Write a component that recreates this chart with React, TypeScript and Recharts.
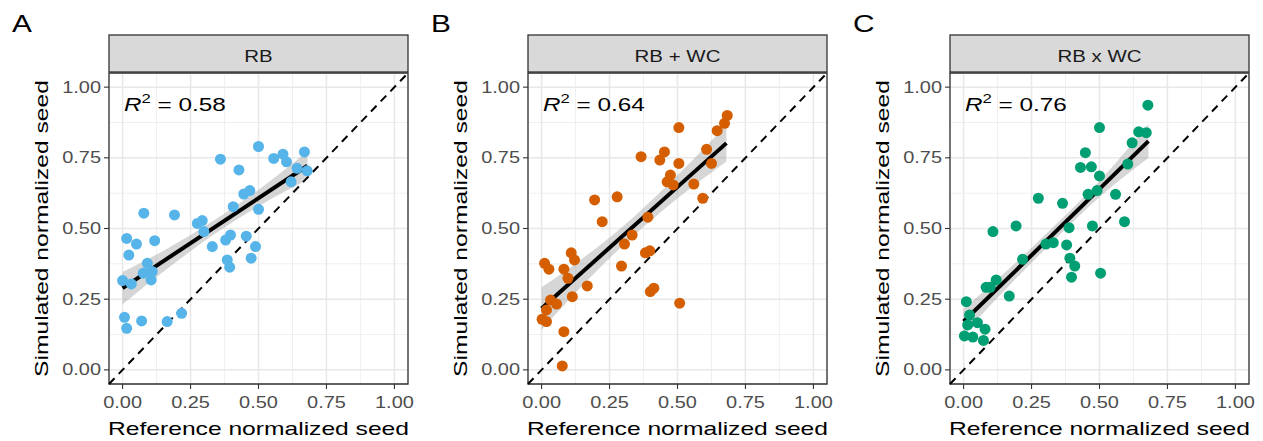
import React from 'react';
import {
  ComposedChart,
  Scatter,
  Line,
  Area,
  XAxis,
  YAxis,
  CartesianGrid,
  ReferenceLine,
  ReferenceArea,
} from 'recharts';

// values
const rbX = [0.5, 0.36, 0.556, 0.59, 0.603, 0.669, 0.642, 0.679, 0.428, 0.62, 0.446, 0.468, 0.407, 0.5, 0.078, 0.191, 0.275, 0.293, 0.299, 0.015, 0.051, 0.118, 0.397, 0.379, 0.455, 0.33, 0.489, 0.023, 0.385, 0.394, 0.473, 0.091, 0.076, 0.109, 0.105, 0.0, 0.032, 0.007, 0.015, 0.07, 0.164, 0.217];
const rbY = [0.79, 0.745, 0.748, 0.763, 0.736, 0.771, 0.713, 0.704, 0.707, 0.665, 0.622, 0.634, 0.577, 0.568, 0.554, 0.548, 0.518, 0.528, 0.489, 0.465, 0.445, 0.457, 0.477, 0.459, 0.473, 0.436, 0.436, 0.406, 0.389, 0.363, 0.395, 0.377, 0.342, 0.348, 0.318, 0.316, 0.304, 0.186, 0.147, 0.173, 0.171, 0.2];

const rbwcX = [0.683, 0.673, 0.646, 0.505, 0.607, 0.625, 0.366, 0.452, 0.435, 0.505, 0.474, 0.462, 0.484, 0.56, 0.593, 0.195, 0.278, 0.223, 0.391, 0.333, 0.305, 0.382, 0.398, 0.294, 0.109, 0.121, 0.011, 0.027, 0.082, 0.097, 0.168, 0.113, 0.033, 0.055, 0.018, 0.002, 0.018, 0.082, 0.076, 0.4, 0.413, 0.508];
const rbwcY = [0.9, 0.872, 0.846, 0.857, 0.78, 0.73, 0.754, 0.771, 0.742, 0.73, 0.689, 0.665, 0.654, 0.657, 0.607, 0.601, 0.612, 0.524, 0.54, 0.477, 0.445, 0.414, 0.421, 0.367, 0.414, 0.389, 0.377, 0.356, 0.356, 0.324, 0.297, 0.259, 0.247, 0.233, 0.212, 0.179, 0.171, 0.135, 0.014, 0.277, 0.289, 0.236];

const rbxwcX = [0.678, 0.5, 0.644, 0.672, 0.62, 0.448, 0.43, 0.47, 0.604, 0.5, 0.458, 0.491, 0.559, 0.275, 0.364, 0.592, 0.474, 0.388, 0.108, 0.193, 0.303, 0.33, 0.379, 0.391, 0.409, 0.397, 0.504, 0.217, 0.12, 0.083, 0.098, 0.168, 0.01, 0.022, 0.051, 0.015, 0.079, 0.003, 0.034, 0.073];
const rbxwcY = [0.936, 0.857, 0.842, 0.839, 0.803, 0.768, 0.716, 0.718, 0.728, 0.686, 0.621, 0.634, 0.621, 0.607, 0.589, 0.524, 0.509, 0.503, 0.489, 0.509, 0.445, 0.45, 0.442, 0.395, 0.367, 0.328, 0.342, 0.391, 0.318, 0.292, 0.292, 0.261, 0.241, 0.194, 0.167, 0.159, 0.144, 0.12, 0.116, 0.104];

// fitted line ends and 95% band as drawn
const fitX = [0, 0.68];
const rbFit = [0.289, 0.722];
const rbwcFit = [0.217, 0.802];
const rbxwcFit = [0.171, 0.809];

const bandX = [0, 0.17, 0.34, 0.51, 0.68];
const rbLow = [0.232, 0.362, 0.481, 0.584, 0.672];
const rbHigh = [0.346, 0.432, 0.531, 0.644, 0.772];
const rbwcLow = [0.142, 0.318, 0.476, 0.614, 0.737];
const rbwcHigh = [0.292, 0.408, 0.542, 0.698, 0.867];
const rbxwcLow = [0.126, 0.3, 0.465, 0.619, 0.749];
const rbxwcHigh = [0.216, 0.36, 0.515, 0.679, 0.869];

const majorTicks = [0, 0.25, 0.5, 0.75, 1];
const minorTicks = [0.125, 0.375, 0.625, 0.875];
const domain: [number, number] = [-0.05, 1.05];

const letters = ['A', 'B', 'C'];
const strips = ['RB', 'RB + WC', 'RB x WC'];
const r2Labels = ['0.58', '0.64', '0.76'];
const colors = ['#56B4E9', '#D55E00', '#009E73'];

const FONT = '"Liberation Sans", Arial, sans-serif';
const SX = 1.28; // glyphs in the figure are wider than Arial
const W = 420;
const H = 441;
const offsets = [0, 419, 841];
const PL = 109;
const PR = 408;
const PT = 73;
const PB = 384;

const XTick = (p: any) => (
  <text
    transform={`translate(${p.x},${p.y}) scale(${SX},1)`}
    textAnchor="middle"
    dy="0.71em"
    fontSize={15.6}
    fontFamily={FONT}
    fill="#4d4d4d"
  >
    {Number(p.payload.value).toFixed(2)}
  </text>
);

const YTick = (p: any) => (
  <text
    transform={`translate(${p.x},${p.y}) scale(${SX},1)`}
    textAnchor="end"
    dy="0.36em"
    fontSize={15.6}
    fontFamily={FONT}
    fill="#4d4d4d"
  >
    {Number(p.payload.value).toFixed(2)}
  </text>
);

function Panel({ i, xs, ys, fit, low, high }: { i: number; xs: number[]; ys: number[]; fit: number[]; low: number[]; high: number[] }) {
  const color = colors[i];
  const pts = xs.map((x, k) => ({ x, y: ys[k] }));
  const fitData = fitX.map((x, k) => ({ x, y: fit[k] }));
  const bandData = bandX.map((x, k) => ({ x, band: [low[k], high[k]] }));
  const cx = (PL + PR) / 2;
  return (
    <div style={{ position: 'absolute', left: offsets[i], top: 0, width: W, height: H }}>
      <ComposedChart width={W} height={H} margin={{ top: PT, right: W - PR, bottom: 27, left: 50 }}>
        <XAxis xAxisId="m" type="number" dataKey="x" domain={domain} ticks={minorTicks} hide allowDataOverflow />
        <YAxis yAxisId="m" type="number" dataKey="y" domain={domain} ticks={minorTicks} hide allowDataOverflow />
        <CartesianGrid xAxisId="m" yAxisId="m" stroke="#ebebeb" strokeWidth={0.8} />
        <CartesianGrid stroke="#e8e8e8" strokeWidth={1.5} />
        <XAxis
          type="number"
          dataKey="x"
          domain={domain}
          ticks={majorTicks}
          allowDataOverflow
          axisLine={false}
          tickLine={{ stroke: '#333333', strokeWidth: 1.1 }}
          tickSize={5}
          tickMargin={8}
          height={30}
          tick={XTick}
        />
        <YAxis
          type="number"
          dataKey="y"
          domain={domain}
          ticks={majorTicks}
          allowDataOverflow
          axisLine={false}
          tickLine={{ stroke: '#333333', strokeWidth: 1.1 }}
          tickSize={5}
          tickMargin={3}
          width={59}
          tick={YTick}
        />
        <Scatter
          data={pts}
          isAnimationActive={false}
          shape={(p: any) => <circle cx={p.cx} cy={p.cy} r={5.5} fill={color} />}
        />
        <Area
          data={bandData}
          dataKey="band"
          type="monotone"
          stroke="none"
          fill="#999999"
          fillOpacity={0.4}
          isAnimationActive={false}
          activeDot={false}
        />
        <Line
          data={fitData}
          dataKey="y"
          type="linear"
          stroke="#000000"
          strokeWidth={4}
          dot={false}
          activeDot={false}
          isAnimationActive={false}
        />
        <ReferenceLine
          segment={[{ x: -0.05, y: -0.05 }, { x: 1.05, y: 1.05 }]}
          stroke="#000000"
          strokeWidth={2}
          strokeDasharray="8 6"
        />
        <ReferenceArea x1={-0.05} x2={1.05} y1={-0.05} y2={1.05} fill="none" stroke="#333333" strokeWidth={1.3} />
      </ComposedChart>
      <svg width={W} height={H} style={{ position: 'absolute', left: 0, top: 0, pointerEvents: 'none' }}>
        <rect x={PL} y={35} width={PR - PL} height={PT - 36} fill="#d9d9d9" stroke="#333333" strokeWidth={1.3} />
        <text transform={`translate(${cx},61.5) scale(${SX},1)`} textAnchor="middle" fontSize={16} fontFamily={FONT} fill="#1a1a1a">
          {strips[i]}
        </text>
        <text transform={`translate(12,31.7) scale(${SX},1)`} fontSize={23.3} fontFamily={FONT} fill="#000">
          {letters[i]}
        </text>
        <text transform={`translate(${PL + 15},111) scale(${SX},1)`} fontSize={19} fontFamily={FONT} fill="#000">
          <tspan fontStyle="italic">R</tspan>
          <tspan fontSize={13} dy={-8}>2</tspan>
          <tspan dy={8}>{` = ${r2Labels[i]}`}</tspan>
        </text>
        <text transform={`translate(${cx},435) scale(1.31,1)`} textAnchor="middle" fontSize={18.8} fontFamily={FONT} fill="#000">
          Reference normalized seed
        </text>
        <text transform={`translate(48.3,${(PT + PB) / 2}) rotate(-90) scale(1.31,1)`} textAnchor="middle" fontSize={18.8} fontFamily={FONT} fill="#000">
          Simulated normalized seed
        </text>
      </svg>
    </div>
  );
}

export default function App() {
  return (
    <div style={{ position: 'absolute', left: 0, top: 0, width: 1263, height: 441, background: '#ffffff', overflow: 'hidden' }}>
      <Panel i={0} xs={rbX} ys={rbY} fit={rbFit} low={rbLow} high={rbHigh} />
      <Panel i={1} xs={rbwcX} ys={rbwcY} fit={rbwcFit} low={rbwcLow} high={rbwcHigh} />
      <Panel i={2} xs={rbxwcX} ys={rbxwcY} fit={rbxwcFit} low={rbxwcLow} high={rbxwcHigh} />
    </div>
  );
}
